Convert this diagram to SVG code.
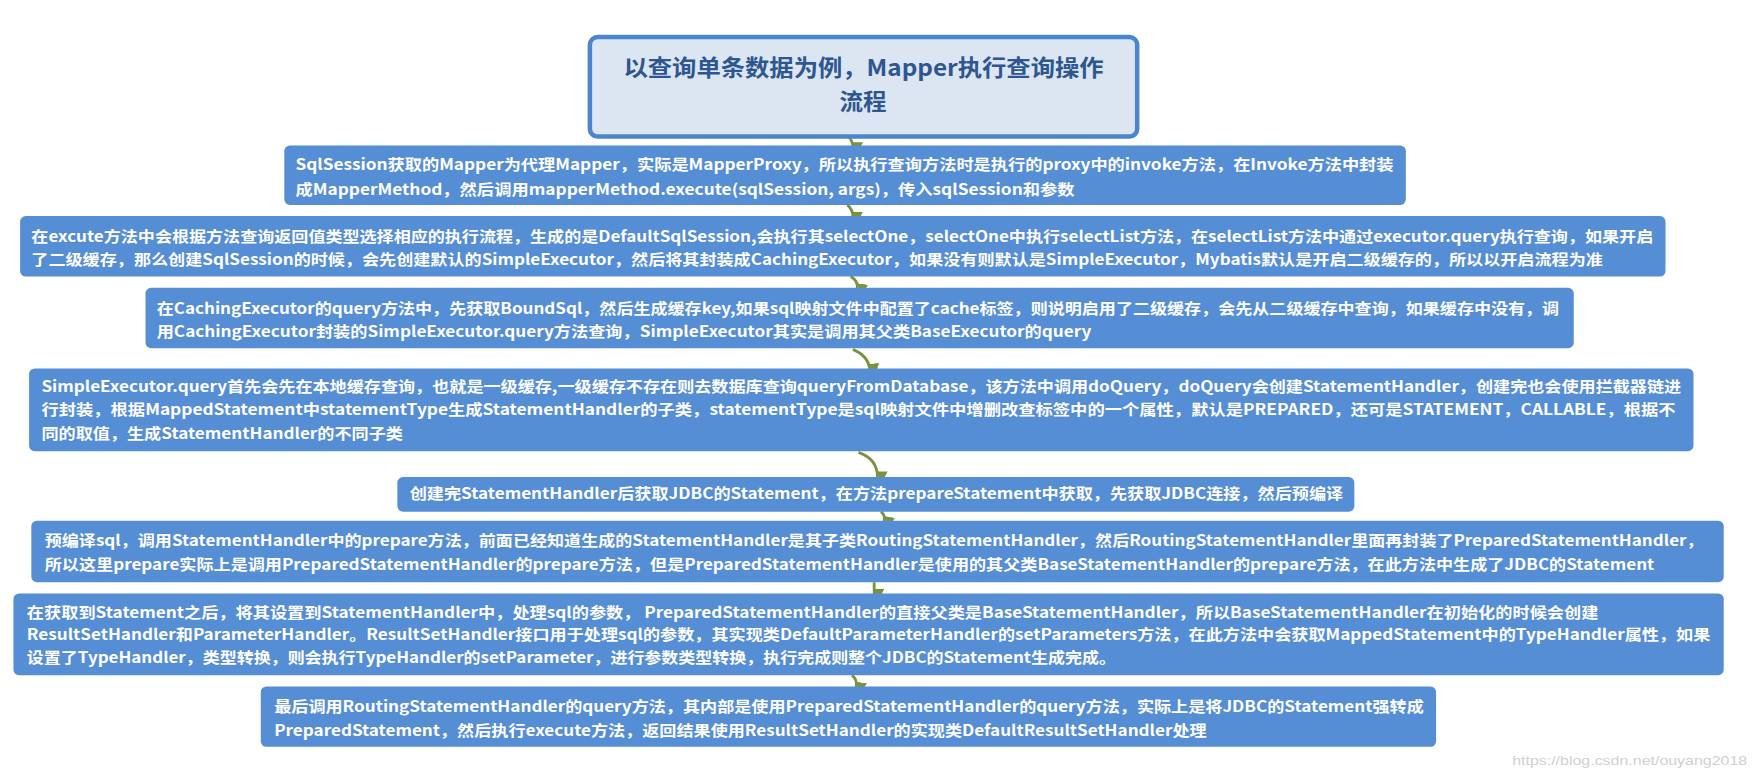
<svg xmlns="http://www.w3.org/2000/svg" width="1755" height="776" viewBox="0 0 1755 776">
<defs>
<style>
.b{fill:#558ed5;}
.t{font-family:"Noto Sans CJK SC","Liberation Sans",sans-serif;font-weight:bold;font-size:13.5px;fill:#ffffff;}
.h{font-family:"Noto Sans CJK SC","Liberation Sans",sans-serif;font-weight:bold;font-size:20px;fill:#2e5690;}
.c{fill:none;stroke:#77933c;stroke-width:2.5;}
</style>
<marker id="a" viewBox="0 0 10 10" refX="5" refY="9" markerWidth="4" markerHeight="4" orient="auto-start-reverse"><path d="M0,0 L10,0 L5,10 Z" fill="#77933c" transform="rotate(-90 5 5)"/></marker>
</defs>
<rect width="1755" height="776" fill="#ffffff"/>
<g transform="scale(1.1193 1.1197)">
<g id="connectors">
<path class="c" d="M757,121 Q762,125 762,132" marker-end="url(#a)"/>
<path class="c" d="M757,183 Q762,187 762,194" marker-end="url(#a)"/>
<path class="c" d="M760,247 Q767,251 766,258" marker-end="url(#a)"/>
<path class="c" d="M762,312 Q776,318 777,330" marker-end="url(#a)"/>
<path class="c" d="M767,404 Q784,410 784,426" marker-end="url(#a)"/>
<path class="c" d="M787,457 Q791,460 790,466" marker-end="url(#a)"/>
<path class="c" d="M781,520 L781,531" marker-end="url(#a)"/>
<path class="c" d="M761,603 Q766,606 765,614" marker-end="url(#a)"/>
</g>
<g id="title">
<rect x="527" y="33" width="489" height="89" rx="7" fill="#dce6f2" stroke="#4a86d0" stroke-width="4"/>
<text class="h" x="557" y="68" textLength="429" lengthAdjust="spacingAndGlyphs">以查询单条数据为例，Mapper执行查询操作</text>
<text class="h" x="750" y="98" textLength="42" lengthAdjust="spacingAndGlyphs">流程</text>
</g>
<g id="n1">
<rect class="b" x="254" y="130" width="1002" height="53" rx="5"/>
<text class="t" x="264" y="152" textLength="981" lengthAdjust="spacingAndGlyphs">SqlSession获取的Mapper为代理Mapper，实际是MapperProxy，所以执行查询方法时是执行的proxy中的invoke方法，在Invoke方法中封装</text>
<text class="t" x="264" y="174" textLength="696" lengthAdjust="spacingAndGlyphs">成MapperMethod，然后调用mapperMethod.execute(sqlSession, args)，传入sqlSession和参数</text>
</g>
<g id="n2">
<rect class="b" x="18" y="193" width="1470" height="54" rx="5"/>
<text class="t" x="28" y="216" textLength="1449" lengthAdjust="spacingAndGlyphs">在excute方法中会根据方法查询返回值类型选择相应的执行流程，生成的是DefaultSqlSession,会执行其selectOne，selectOne中执行selectList方法，在selectList方法中通过executor.query执行查询，如果开启</text>
<text class="t" x="28" y="237" textLength="1404" lengthAdjust="spacingAndGlyphs">了二级缓存，那么创建SqlSession的时候，会先创建默认的SimpleExecutor，然后将其封装成CachingExecutor，如果没有则默认是SimpleExecutor，Mybatis默认是开启二级缓存的，所以以开启流程为准</text>
</g>
<g id="n3">
<rect class="b" x="130" y="257" width="1276" height="54" rx="5"/>
<text class="t" x="140" y="280" textLength="1253" lengthAdjust="spacingAndGlyphs">在CachingExecutor的query方法中，先获取BoundSql，然后生成缓存key,如果sql映射文件中配置了cache标签，则说明启用了二级缓存，会先从二级缓存中查询，如果缓存中没有，调</text>
<text class="t" x="140" y="301" textLength="835" lengthAdjust="spacingAndGlyphs">用CachingExecutor封装的SimpleExecutor.query方法查询，SimpleExecutor其实是调用其父类BaseExecutor的query</text>
</g>
<g id="n4">
<rect class="b" x="26" y="329" width="1487" height="74" rx="5"/>
<text class="t" x="37" y="350" textLength="1465" lengthAdjust="spacingAndGlyphs">SimpleExecutor.query首先会先在本地缓存查询，也就是一级缓存,一级缓存不存在则去数据库查询queryFromDatabase，该方法中调用doQuery，doQuery会创建StatementHandler，创建完也会使用拦截器链进</text>
<text class="t" x="37" y="371" textLength="1460" lengthAdjust="spacingAndGlyphs">行封装，根据MappedStatement中statementType生成StatementHandler的子类，statementType是sql映射文件中增删改查标签中的一个属性，默认是PREPARED，还可是STATEMENT，CALLABLE，根据不</text>
<text class="t" x="37" y="392" textLength="323" lengthAdjust="spacingAndGlyphs">同的取值，生成StatementHandler的不同子类</text>
</g>
<g id="n5">
<rect class="b" x="355" y="426" width="855" height="31" rx="5"/>
<text class="t" x="366" y="446" textLength="834" lengthAdjust="spacingAndGlyphs">创建完StatementHandler后获取JDBC的Statement，在方法prepareStatement中获取，先获取JDBC连接，然后预编译</text>
</g>
<g id="n6">
<rect class="b" x="28" y="465" width="1512" height="55" rx="5"/>
<text class="t" x="40" y="488" textLength="1482" lengthAdjust="spacingAndGlyphs">预编译sql，调用StatementHandler中的prepare方法，前面已经知道生成的StatementHandler是其子类RoutingStatementHandler，然后RoutingStatementHandler里面再封装了PreparedStatementHandler，</text>
<text class="t" x="40" y="509" textLength="1438" lengthAdjust="spacingAndGlyphs">所以这里prepare实际上是调用PreparedStatementHandler的prepare方法，但是PreparedStatementHandler是使用的其父类BaseStatementHandler的prepare方法，在此方法中生成了JDBC的Statement</text>
</g>
<g id="n7">
<rect class="b" x="12" y="530" width="1528" height="73" rx="5"/>
<text class="t" x="24" y="552" textLength="1404" lengthAdjust="spacingAndGlyphs">在获取到Statement之后，将其设置到StatementHandler中，处理sql的参数，  PreparedStatementHandler的直接父类是BaseStatementHandler，所以BaseStatementHandler在初始化的时候会创建</text>
<text class="t" x="24" y="572" textLength="1504" lengthAdjust="spacingAndGlyphs">ResultSetHandler和ParameterHandler。ResultSetHandler接口用于处理sql的参数，其实现类DefaultParameterHandler的setParameters方法，在此方法中会获取MappedStatement中的TypeHandler属性，如果</text>
<text class="t" x="24" y="592" textLength="973" lengthAdjust="spacingAndGlyphs">设置了TypeHandler，类型转换，则会执行TypeHandler的setParameter，进行参数类型转换，执行完成则整个JDBC的Statement生成完成。</text>
</g>
<g id="n8">
<rect class="b" x="233" y="613" width="1050" height="54" rx="5"/>
<text class="t" x="245" y="636" textLength="1027" lengthAdjust="spacingAndGlyphs">最后调用RoutingStatementHandler的query方法，其内部是使用PreparedStatementHandler的query方法，实际上是将JDBC的Statement强转成</text>
<text class="t" x="245" y="657" textLength="833" lengthAdjust="spacingAndGlyphs">PreparedStatement，然后执行execute方法，返回结果使用ResultSetHandler的实现类DefaultResultSetHandler处理</text>
</g>
<text x="1351" y="683" font-family="Liberation Sans,sans-serif" font-size="12" fill="#d0d0d0" textLength="210" lengthAdjust="spacingAndGlyphs">https://blog.csdn.net/ouyang2018</text>
</g>
</svg>
